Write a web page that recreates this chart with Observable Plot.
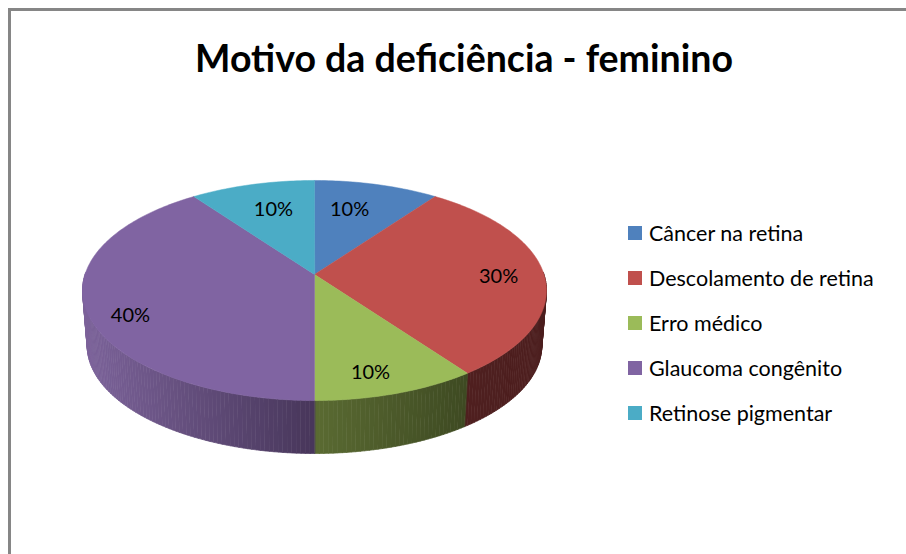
<!DOCTYPE html>
<html lang="pt">
<head>
<meta charset="utf-8">
<script src="https://cdn.jsdelivr.net/npm/d3@7"></script>
<script src="https://cdn.jsdelivr.net/npm/@observablehq/plot@0.6"></script>
<style>
  html, body { margin: 0; padding: 0; background: #fff; width: 906px; height: 554px; overflow: hidden; }
  body { position: relative; font-family: Lato, "Noto Sans", sans-serif; color: #000; }
  #frame { position: absolute; left: 8px; top: 8px; width: 906px; height: 554px; box-sizing: border-box; border: 3px solid #868686; }
  #chart { position: absolute; left: 0; top: 0; }
  #title { position: absolute; left: 0; width: 928px; top: 33px; margin: 0; text-align: center; font-size: 37.5px; line-height: 50px; font-weight: 700; white-space: nowrap; }
  #legend { position: absolute; left: 628px; top: 210px; margin: 0; padding: 0; list-style: none; }
  #legend li { height: 45px; display: flex; align-items: center; font-size: 21.5px; white-space: nowrap; }
  #legend i { width: 14px; height: 14px; margin-right: 7px; display: block; flex: none; }
</style>
</head>
<body>
<div id="frame"></div>
<div id="chart"></div>
<h1 id="title"></h1>
<ul id="legend"></ul>
<script>
const titleText = "Motivo da deficiência - feminino";
const categories = ["Câncer na retina", "Descolamento de retina", "Erro médico", "Glaucoma congênito", "Retinose pigmentar"];
const values = [10, 30, 10, 40, 10];
const colors = ["#4f81bd", "#c0504d", "#9bbb59", "#8064a2", "#4bacc6"];
const wallLeft = ["#2b4566", "#4f1f1f", "#5a6a32", "#7b6299", "#296070"];
const wallRight = ["#2b4566", "#4c1e1e", "#3e4a22", "#47365a", "#296070"];
const labelX = [0.153, 0.802, 0.244, -0.802, -0.179];
const labelY = [-0.604, 0.019, 0.91, 0.381, -0.604];

// Tilted-disc view: unit-circle points are foreshortened toward the back edge.
const tilt = 0.1455, wallDrop = 0.515, wallShrink = 0.98;
const project = (a, drop = 0, s = 1) => {
  const cx = Math.sin(a), cy = -Math.cos(a), d = 1 - tilt * cy;
  return {x: s * cx / d, y: drop + s * cy / d};
};
const arcs = d3.pie().sort(null).startAngle(0).endAngle(2 * Math.PI)(values);
const deg = Math.PI / 180;

const faces = [];
arcs.forEach((arc, i) => {
  faces.push({id: i, color: colors[i], x: 0, y: 0});
  for (let a = arc.startAngle; a < arc.endAngle; a += deg) faces.push({id: i, color: colors[i], ...project(a)});
  faces.push({id: i, color: colors[i], ...project(arc.endAngle)});
});

// Outer wall: thin shaded strips between the top rim and the lower rim.
const aRight = Math.PI / 2 + Math.asin(tilt), aLeft = 2 * Math.PI - aRight;
const walls = [];
arcs.forEach((arc, i) => {
  const from = Math.max(arc.startAngle, aRight > arc.endAngle ? arc.endAngle : Math.PI / 2 - 0.02);
  const to = Math.min(arc.endAngle, 1.5 * Math.PI + 0.02);
  if (to <= from) return;
  const mix = d3.interpolateRgb(wallLeft[i], wallRight[i]);
  const x0 = project(to).x, x1 = project(from).x;
  const n = Math.ceil((to - from) / deg);
  for (let j = 0; j < n; ++j) {
    const a0 = from + (to - from) * j / n, a1 = from + (to - from) * (j + 1) / n;
    const p0 = project(a0), p1 = project(a1), q1 = project(a1, wallDrop, wallShrink), q0 = project(a0, wallDrop, wallShrink);
    const t = x1 === x0 ? 0 : ((p0.x + p1.x) / 2 - x0) / (x1 - x0);
    const color = mix(t), id = `${i}-${j}`;
    for (const p of [p0, p1, q1, q0]) walls.push({id, color, ...p});
  }
});

const labels = values.map((v, i) => ({
  text: `${Math.round(v / d3.sum(values) * 100)}%`, x: labelX[i], y: labelY[i]
}));

const chart = Plot.plot({
  width: 906, height: 554,
  margin: 0,
  x: {domain: [-1, 1], range: [84.5, 543.5], axis: null},
  y: {domain: [-1, 1], range: [166.3, 381.7], axis: null},
  style: {background: "transparent", fontFamily: "Lato, 'Noto Sans', sans-serif"},
  marks: [
    Plot.line(walls, {x: "x", y: "y", z: "id", fill: "color", stroke: "color", strokeWidth: 0.7, curve: "linear-closed"}),
    Plot.line(faces, {x: "x", y: "y", z: "id", fill: "color", stroke: "color", strokeWidth: 0.5, curve: "linear-closed"}),
    Plot.text(labels, {x: "x", y: "y", text: "text", fontSize: 20, fill: "#000", lineAnchor: "middle", textAnchor: "middle"})
  ]
});
document.getElementById("chart").append(chart);
document.getElementById("title").textContent = titleText;
const legend = d3.select("#legend").selectAll("li").data(categories).join("li");
legend.append("i").style("background", (d, i) => colors[i]);
legend.append("span").text(d => d);
</script>
</body>
</html>
